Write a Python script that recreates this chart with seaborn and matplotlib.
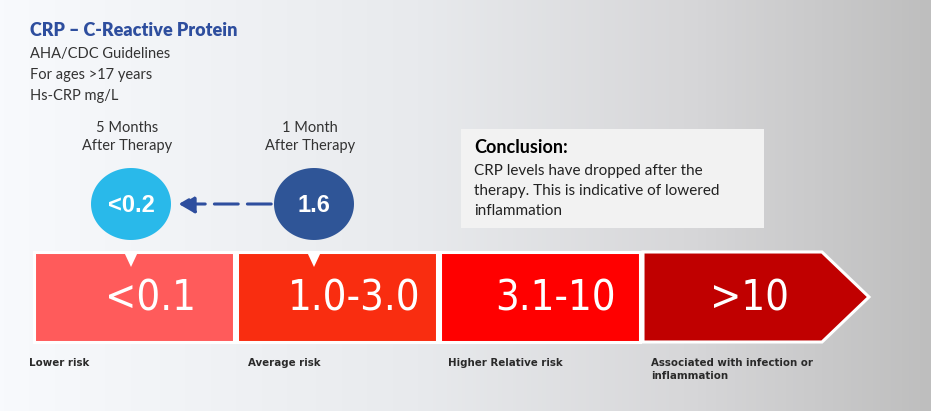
import numpy as np
import pandas as pd
import seaborn as sns
import matplotlib.pyplot as plt
from matplotlib.patches import Rectangle, Polygon, FancyArrowPatch
from matplotlib.colors import LinearSegmentedColormap
from matplotlib.path import Path

sns.set_theme(style="white")
plt.rcParams['font.family'] = ['Lato', 'DejaVu Sans']

# data
ranges = ['<0.1', '1.0-3.0', '3.1-10', '>10']
risks = ['Lower risk', 'Average risk', 'Higher Relative risk',
         'Associated with infection or\ninflammation']
band_colors = ['#ff5b5b', '#f92d10', '#ff0000', '#c00000']
visits = ['5 Months\nAfter Therapy', '1 Month\nAfter Therapy']
visit_values = ['<0.2', '1.6']
visit_band = [0, 1]          # which range each reading falls in
visit_colors = ['#29b9ea', '#2f5597']

title = 'CRP – C-Reactive Protein'
subtitle = ['AHA/CDC Guidelines', 'For ages >17 years', 'Hs-CRP mg/L']
concl_head = 'Conclusion:'
concl_body = ['CRP levels have dropped after the',
              'therapy. This is indicative of lowered',
              'inflammation']

W, H = 931, 411
fig = plt.figure(figsize=(W / 100, H / 100), dpi=100)
ax = fig.add_axes([0, 0, 1, 1])
ax.set_xlim(0, W)
ax.set_ylim(H, 0)
ax.axis('off')

# background gradient
cmap = LinearSegmentedColormap.from_list(
    'bg', [(0, '#f8fafd'), (0.45, '#e8eaed'), (0.75, '#d6d6d8'), (1, '#bebebe')])
ax.imshow(np.linspace(0, 1, 256)[None, :], cmap=cmap, aspect='auto',
          extent=[0, W, H, 0], zorder=0)

# range band
x0, step, seg_w, top, bot = 34, 203, 200, 252, 342
num_dx = [116, 117, 116, 107]
risk_dx = [-5, 11, 8, 8]
for i, (lab, col) in enumerate(zip(ranges, band_colors)):
    left = x0 + i * step
    if i < len(ranges) - 1:
        ax.add_patch(Rectangle((left, top), seg_w, bot - top, facecolor=col,
                               edgecolor='white', lw=2.2, zorder=2))
    else:
        ax.add_patch(Polygon([(left, top), (left + 179, top), (left + 226, (top + bot) / 2),
                              (left + 179, bot), (left, bot)], closed=True,
                             facecolor=col, edgecolor='white', lw=2.2, zorder=2))
    ax.text(left + num_dx[i], (top + bot) / 2 + 1, lab, color='white', fontsize=30,
            family='DejaVu Sans', fontstretch='condensed',
            ha='center', va='center', zorder=3)
    ax.text(left + risk_dx[i], 358, risks[i], color='#2a2a2a', fontsize=8.2,
            family='DejaVu Sans', fontstretch='condensed', fontweight='bold',
            ha='left', va='top', linespacing=1.4, zorder=3)

# title block
ax.text(30, 31, title, color='#2e4e9e', fontsize=13, fontweight='heavy',
        ha='left', va='center')
for k, s in enumerate(subtitle):
    ax.text(30, 54 + k * 21, s, color='#333333', fontsize=10.5,
            ha='left', va='center')

# therapy readings
pointer_dx = [97, 77]
pts = pd.DataFrame({
    'x': [x0 + b * step + d for b, d in zip(visit_band, pointer_dx)],
    'y': [204, 204],
    'visit': visits,
})
t = np.linspace(0, 2 * np.pi, 100)
ell = Path(np.column_stack([np.cos(t), 0.9 * np.sin(t)]))
sns.scatterplot(data=pts, x='x', y='y', hue='visit', palette=visit_colors,
                marker=ell, s=3318, linewidth=0, legend=False, ax=ax, zorder=4)
for (_, r), v in zip(pts.iterrows(), visit_values):
    ax.text(r.x, r.y + 1, v, color='white', fontsize=17, fontweight='bold',
            family='Liberation Sans', ha='center', va='center', zorder=5)
    ax.text(r.x - 4, 137, r.visit, color='#333333', fontsize=10.5,
            ha='center', va='center', linespacing=1.45, zorder=5)
    # pointer into the band
    ax.add_patch(Polygon([(r.x - 7, top), (r.x + 7, top), (r.x, top + 15)],
                         closed=True, facecolor='white', edgecolor='none', zorder=3))

ax.add_patch(FancyArrowPatch((pts.x[1] - 40, 204), (pts.x[0] + 45, 204),
                             arrowstyle='-|>,head_length=6,head_width=3.5',
                             color='#2e4e9e', lw=2.2, linestyle=(0, (7.8, 3)),
                             mutation_scale=1.6, zorder=4))

# conclusion box
ax.add_patch(Rectangle((461, 129), 303, 99, facecolor='#f2f2f2',
                       edgecolor='none', zorder=2))
ax.text(474, 147, concl_head, color='black', fontsize=13, fontweight='bold',
        ha='left', va='center', zorder=3)
for k, s in enumerate(concl_body):
    ax.text(474, 171 + k * 20, s, color='#222222', fontsize=11,
            ha='left', va='center', zorder=3)

fig.savefig('out.png', dpi=100)
